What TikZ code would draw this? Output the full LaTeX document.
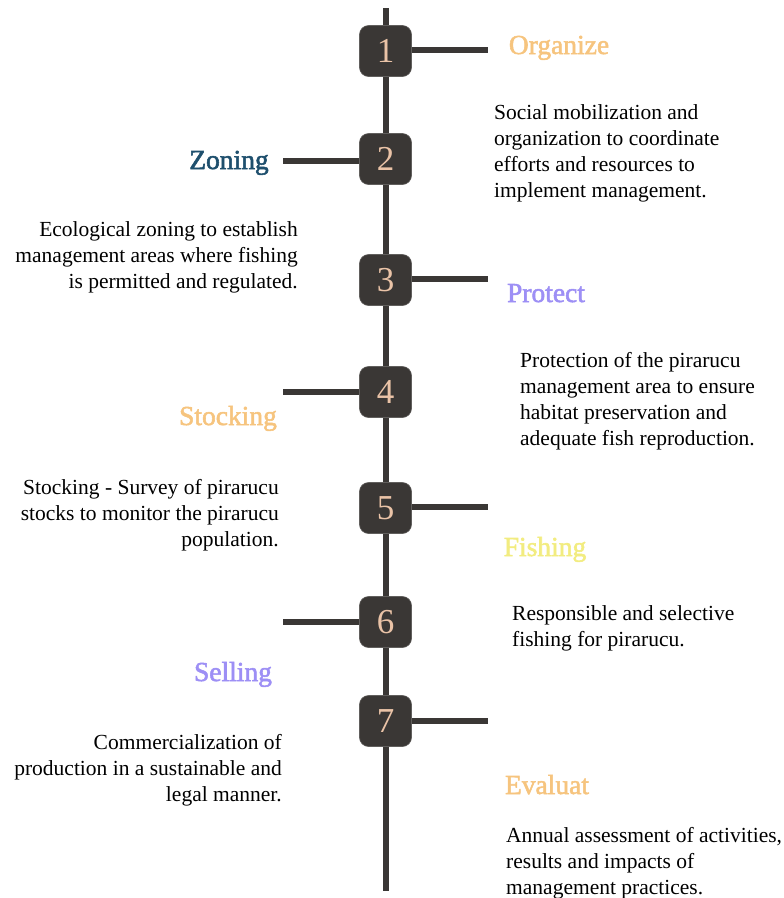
\documentclass[tikz,border=0pt]{standalone}
\usepackage{fontspec}
\setmainfont{Liberation Serif}
\newfontfamily\headfont{Liberation Serif}[FakeBold=2]
\usetikzlibrary{backgrounds}

\definecolor{ink}{HTML}{3A3735}
\definecolor{digit}{HTML}{EAC3A7}
\definecolor{sand}{HTML}{F6C47E}
\definecolor{teal}{HTML}{1E4F6D}
\definecolor{lilac}{HTML}{9D8FF5}
\definecolor{lemon}{HTML}{F2EC80}

\tikzset{
  stepbox/.style={fill=ink, draw=ink!80, line width=0.6pt, rounded corners=9pt,
    minimum width=52pt, minimum height=51pt, inner sep=0pt,
    text=digit, font=\fontsize{35}{35}\selectfont},
  spine/.style={draw=ink, line width=6pt},
  branch/.style={draw=ink, line width=6pt},
  heading/.style={anchor=base, inner sep=0pt, font=\headfont\fontsize{27.5}{30}\selectfont},
  blurb/.style={inner sep=0pt, text=black, font=\fontsize{21.5}{26}\selectfont},
  blurbL/.style={blurb, anchor=base west, align=left},
  blurbR/.style={blurb, anchor=base east, align=right},
}

\begin{document}
\begin{tikzpicture}[x=1pt, y=-1pt]
  \useasboundingbox (0,0) rectangle (784,898);

  % numbered steps along the timeline
  \node[stepbox] (n1) at (385.5,51)  {1};
  \node[stepbox] (n2) at (385.5,159) {2};
  \node[stepbox] (n3) at (385.5,280) {3};
  \node[stepbox] (n4) at (385.5,392) {4};
  \node[stepbox] (n5) at (385.5,508) {5};
  \node[stepbox] (n6) at (385.5,622) {6};
  \node[stepbox] (n7) at (385.5,721) {7};

  % ends of the spine and of the side branches
  \coordinate (top)    at (385.5,8);
  \coordinate (bottom) at (385.5,891);
  \coordinate (b1) at (488,50);
  \coordinate (b2) at (283,161);
  \coordinate (b3) at (488,279);
  \coordinate (b4) at (283,392);
  \coordinate (b5) at (488,507);
  \coordinate (b6) at (283,622);
  \coordinate (b7) at (488,721);

  \begin{scope}[on background layer]
    \draw[spine] (top) -- (n1.center) -- (n2.center) -- (n3.center) -- (n4.center)
      -- (n5.center) -- (n6.center) -- (n7.center) -- (bottom);
    \draw[branch] (n1.center |- b1) -- (b1);
    \draw[branch] (n2.center |- b2) -- (b2);
    \draw[branch] (n3.center |- b3) -- (b3);
    \draw[branch] (n4.center |- b4) -- (b4);
    \draw[branch] (n5.center |- b5) -- (b5);
    \draw[branch] (n6.center |- b6) -- (b6);
    \draw[branch] (n7.center |- b7) -- (b7);
  \end{scope}

  % headings
  \node[heading, text=sand]  (h1) at (559,54)  {Organize};
  \node[heading, text=teal]  (h2) at (229,169) {Zoning};
  \node[heading, text=lilac] (h3) at (546,302) {Protect};
  \node[heading, text=sand]  (h4) at (228,425) {Stocking};
  \node[heading, text=lemon] (h5) at (545,556) {Fishing};
  \node[heading, text=lilac] (h6) at (233,681) {Selling};
  \node[heading, text=sand]  (h7) at (547,794) {Evaluat};

  % descriptions (anchored at the baseline of their last line)
  \node[blurbL] (d1) at (494,197) {Social mobilization and\\organization to coordinate\\efforts and resources to\\implement management.};
  \node[blurbR] (d2) at (298,288) {Ecological zoning to establish\\management areas where fishing\\is permitted and regulated.};
  \node[blurbL] (d3) at (520,445) {Protection of the pirarucu\\management area to ensure\\habitat preservation and\\adequate fish reproduction.};
  \node[blurbR] (d4) at (279,546) {Stocking - Survey of pirarucu\\stocks to monitor the pirarucu\\population.};
  \node[blurbL] (d5) at (512,646) {Responsible and selective\\fishing for pirarucu.};
  \node[blurbR] (d6) at (282,801) {Commercialization of\\production in a sustainable and\\legal manner.};
  \node[blurbL] (d7) at (506,894) {Annual assessment of activities,\\results and impacts of\\management practices.};
\end{tikzpicture}
\end{document}
